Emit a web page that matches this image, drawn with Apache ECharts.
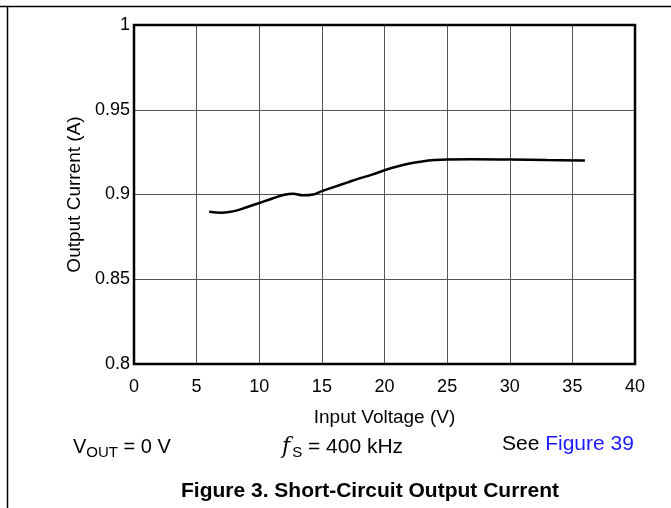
<!DOCTYPE html>
<html>
<head>
<meta charset="utf-8">
<script src="https://cdn.jsdelivr.net/npm/echarts@6/dist/echarts.min.js"></script>
<style>
  html, body { margin: 0; padding: 0; background: #fff; }
  #chart { width: 671px; height: 508px; }
</style>
</head>
<body>
<div id="chart"></div>
<script>
// short-circuit output current vs input voltage
var inputVoltage = [6, 7, 8, 9, 10, 11, 12, 12.7, 13.5, 14.3, 15, 16, 17, 18, 19, 20, 21, 22, 23, 24, 25, 27, 30, 33, 36];
var outputCurrent = [0.8898, 0.8893, 0.8902, 0.8925, 0.8950, 0.8975, 0.8998, 0.9005, 0.8995, 0.9000, 0.9020, 0.9045, 0.9070, 0.9095, 0.9117, 0.9143, 0.9165, 0.9183, 0.9195, 0.9203, 0.9207, 0.9208, 0.9206, 0.9203, 0.9201];

var xTicks = { min: 0, max: 40, step: 5 };
var yTicks = { min: 0.8, max: 1, step: 0.05 };

var font = 'Liberation Sans, Arial, sans-serif';

var points = inputVoltage.map(function (v, i) { return [v, outputCurrent[i]]; });

var chart = echarts.init(document.getElementById('chart'));
chart.setOption({
  animation: false,
  backgroundColor: '#fff',
  grid: {
    left: 134, right: 36, top: 25, bottom: 144,
    show: true,
    borderColor: '#000',
    borderWidth: 2.5,
    z: 3
  },
  xAxis: {
    type: 'value',
    min: xTicks.min, max: xTicks.max, interval: xTicks.step,
    name: 'Input Voltage (V)',
    nameLocation: 'middle',
    nameGap: 44,
    nameTextStyle: { fontFamily: font, fontSize: 19, color: '#000' },
    axisLine: { show: false },
    axisTick: { show: false },
    axisLabel: { fontFamily: font, fontSize: 18, color: '#000', margin: 14 },
    splitLine: { show: true, lineStyle: { color: '#555', width: 1 } }
  },
  yAxis: {
    type: 'value',
    min: yTicks.min, max: yTicks.max, interval: yTicks.step,
    name: 'Output Current (A)',
    nameLocation: 'middle',
    nameGap: 49,
    nameTextStyle: { fontFamily: font, fontSize: 19, color: '#000' },
    axisLine: { show: false },
    axisTick: { show: false },
    axisLabel: { fontFamily: font, fontSize: 18, color: '#000', margin: 4 },
    splitLine: { show: true, lineStyle: { color: '#555', width: 1 } }
  },
  series: [{
    type: 'line',
    data: points,
    smooth: 0.4,
    symbol: 'none',
    lineStyle: { color: '#000', width: 2.5 },
    z: 5
  }],
  graphic: [
    // page frame
    { type: 'line', shape: { x1: 0, y1: 6.5, x2: 671, y2: 6.5 }, style: { stroke: '#000', lineWidth: 1.5 } },
    { type: 'line', shape: { x1: 7.5, y1: 6, x2: 7.5, y2: 508 }, style: { stroke: '#000', lineWidth: 1.5 } },
    {
      type: 'text', left: 73, top: 435,
      style: {
        text: '{m|V}{s|OUT}{m| = 0 V}',
        rich: {
          m: { fontFamily: font, fontSize: 20, fill: '#000', lineHeight: 26 },
          s: { fontFamily: font, fontSize: 15, fill: '#000', lineHeight: 26, padding: [10, 0, 0, 0] }
        }
      }
    },
    {
      type: 'text', left: 282, top: 435,
      style: {
        text: '{f|f}{s|S}{m| = 400 kHz}',
        rich: {
          f: { fontFamily: 'DejaVu Serif, serif', fontStyle: 'italic', fontSize: 22, fill: '#000', lineHeight: 26 },
          m: { fontFamily: font, fontSize: 21, fill: '#000', lineHeight: 26 },
          s: { fontFamily: font, fontSize: 15, fill: '#000', lineHeight: 26, padding: [10, 0, 0, 2] }
        }
      }
    },
    {
      type: 'text', left: 502, top: 434,
      style: {
        text: '{m|See }{b|Figure 39}',
        rich: {
          m: { fontFamily: font, fontSize: 21, fill: '#000', lineHeight: 26 },
          b: { fontFamily: font, fontSize: 21, fill: '#1a1aff', lineHeight: 26 }
        }
      }
    },
    {
      type: 'text', left: 181, top: 481,
      style: {
        text: 'Figure 3. Short-Circuit Output Current',
        fontFamily: font, fontSize: 21, fontWeight: 'bold', fill: '#000'
      }
    }
  ]
});
</script>
</body>
</html>
